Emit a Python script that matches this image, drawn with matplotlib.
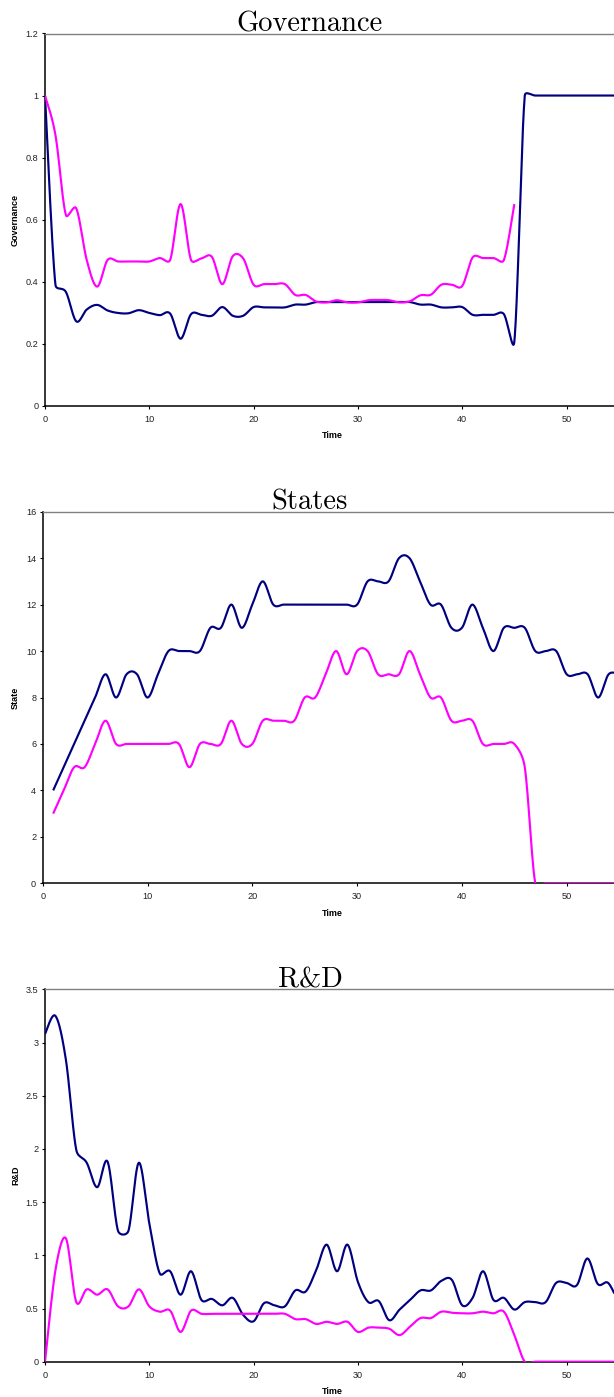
import numpy as np
import matplotlib
matplotlib.use("Agg")
import matplotlib.pyplot as plt
from matplotlib.ticker import FuncFormatter, MultipleLocator

# ---------------------------------------------------------------- data
time_gov = list(range(0, 56))
gov_total = [1.0, 0.39, 0.367, 0.272, 0.31, 0.325, 0.307, 0.299, 0.298, 0.308,
             0.299, 0.292, 0.297, 0.216, 0.295, 0.293, 0.29, 0.318, 0.29, 0.29,
             0.318, 0.317, 0.317, 0.317, 0.326, 0.326, 0.334, 0.334, 0.334, 0.334,
             0.334, 0.334, 0.334, 0.334, 0.334, 0.334, 0.326, 0.326, 0.317, 0.317,
             0.318, 0.293, 0.293, 0.293, 0.295, 0.207, 1.0, 1.0, 1.0, 1.0,
             1.0, 1.0, 1.0, 1.0, 1.0, 1.0]
time_gov_alt = list(range(0, 46))
gov_alt = [1.0, 0.873, 0.615, 0.636, 0.47, 0.384, 0.47, 0.465, 0.465, 0.465,
           0.465, 0.476, 0.47, 0.65, 0.47, 0.475, 0.48, 0.392, 0.482, 0.475,
           0.39, 0.392, 0.392, 0.392, 0.357, 0.357, 0.336, 0.333, 0.34, 0.333,
           0.333, 0.34, 0.341, 0.34, 0.333, 0.337, 0.356, 0.358, 0.39, 0.39,
           0.386, 0.478, 0.476, 0.476, 0.47, 0.65]

time_states = list(range(1, 56))
states_total = [4, 5, 6, 7, 8, 9, 8, 9, 9, 8,
                9, 10, 10, 10, 10, 11, 11, 12, 11, 12,
                13, 12, 12, 12, 12, 12, 12, 12, 12, 12,
                13, 13, 13, 14, 14, 13, 12, 12, 11, 11,
                12, 11, 10, 11, 11, 11, 10, 10, 10, 9,
                9, 9, 8, 9, 9]
states_alt = [3, 4, 5, 5, 6, 7, 6, 6, 6, 6,
              6, 6, 6, 5, 6, 6, 6, 7, 6, 6,
              7, 7, 7, 7, 8, 8, 9, 10, 9, 10,
              10, 9, 9, 9, 10, 9, 8, 8, 7, 7,
              7, 6, 6, 6, 6, 5, 0, 0, 0, 0,
              0, 0, 0, 0, 0]

time_rd = list(range(0, 56))
rd_total = [3.08, 3.25, 2.84, 1.99, 1.87, 1.64, 1.88, 1.23, 1.23, 1.87,
            1.30, 0.83, 0.85, 0.63, 0.85, 0.58, 0.59, 0.53, 0.60, 0.44,
            0.38, 0.55, 0.53, 0.52, 0.67, 0.66, 0.86, 1.10, 0.85, 1.10,
            0.75, 0.56, 0.57, 0.39, 0.49, 0.58, 0.67, 0.67, 0.76, 0.77,
            0.53, 0.60, 0.85, 0.58, 0.60, 0.49, 0.56, 0.56, 0.56, 0.74,
            0.74, 0.72, 0.97, 0.73, 0.74, 0.55]
rd_alt = [0.0, 0.86, 1.16, 0.56, 0.68, 0.63, 0.68, 0.52, 0.52, 0.68,
          0.52, 0.47, 0.48, 0.28, 0.48, 0.45, 0.45, 0.45, 0.45, 0.45,
          0.45, 0.45, 0.45, 0.45, 0.40, 0.40, 0.355, 0.375, 0.355, 0.375,
          0.28, 0.32, 0.32, 0.31, 0.25, 0.33, 0.41, 0.41, 0.47, 0.46,
          0.455, 0.455, 0.47, 0.455, 0.47, 0.25, 0.0, 0.0, 0.0, 0.0,
          0.0, 0.0, 0.0, 0.0, 0.0, 0.0]

titles = ["Governance", "States", "R&D"]
ylabels = ["Governance", "State", "R&D"]

NAVY = "#000080"
MAGENTA = "#FF00FF"
W, H = 614, 1397

# ---------------------------------------------------------------- helpers
def smooth_xy(ax, x, y, n=24):
    """Cubic Bezier smoothing in display space: tangents are (P[i+1]-P[i-1])/6,
    shortened to at most half of the segment they start or end."""
    pts = ax.transData.transform(np.column_stack([x, y]).astype(float))
    N = len(pts)
    tang = np.empty_like(pts)
    tang[0] = pts[1] - pts[0]
    tang[-1] = pts[-1] - pts[-2]
    tang[1:-1] = pts[2:] - pts[:-2]
    tlen = np.hypot(tang[:, 0], tang[:, 1])
    t = np.linspace(0, 1, n)[:, None]
    segs = [pts[:1]]
    for i in range(N - 1):
        d = np.hypot(*(pts[i + 1] - pts[i]))
        f0 = min(1 / 6, d / 2 / tlen[i]) if tlen[i] > 0 else 0
        f3 = min(1 / 6, d / 2 / tlen[i + 1]) if tlen[i + 1] > 0 else 0
        p0 = pts[i]
        p1 = pts[i] + tang[i] * f0
        p2 = pts[i + 1] - tang[i + 1] * f3
        p3 = pts[i + 1]
        b = ((1 - t) ** 3) * p0 + 3 * ((1 - t) ** 2) * t * p1 \
            + 3 * (1 - t) * t ** 2 * p2 + t ** 3 * p3
        segs.append(b[1:])
    curve = np.vstack(segs)
    return ax.transData.inverted().transform(curve)


def fmt(v, pos):
    return "%g" % round(v, 3)


def make_axes(left, top, bottom, xmax, ymax, ystep, title, ylabel, label_y):
    ax = fig.add_axes([left / W, 1 - bottom / H, (W - left) / W, (bottom - top) / H])
    ax.set_xlim(0, xmax)
    ax.set_ylim(0, ymax)
    ax.xaxis.set_major_locator(MultipleLocator(10))
    ax.yaxis.set_major_locator(MultipleLocator(ystep))
    ax.xaxis.set_major_formatter(FuncFormatter(fmt))
    ax.yaxis.set_major_formatter(FuncFormatter(fmt))
    ax.spines["right"].set_visible(False)
    ax.spines["top"].set_color("#808080")
    ax.spines["top"].set_linewidth(1.0)
    for s in ("left", "bottom"):
        ax.spines[s].set_color("black")
        ax.spines[s].set_linewidth(1.1)
    ax.tick_params(axis="both", direction="out", length=2.5, width=0.8,
                   labelsize=6.6, labelcolor="#222222", color="black")
    ax.tick_params(axis="x", pad=4.0)
    ax.tick_params(axis="y", pad=2.2)
    for lab in ax.get_xticklabels() + ax.get_yticklabels():
        lab.set_family("Liberation Sans")
    fig.text(310 / W, 1 - (top - 2) / H, title, family="cmr10", fontsize=20.5,
             ha="center", va="baseline")
    fig.text(15.5 / W, 1 - label_y / H, ylabel, rotation=90, family="Liberation Sans",
             fontweight="bold", fontsize=6.5, ha="center", va="center")
    fig.text(332 / W, 1 - (bottom + 30) / H, "Time", family="Liberation Sans",
             fontweight="bold", fontsize=6.5, ha="center", va="center")
    return ax


def draw(ax, x, y, color):
    c = smooth_xy(ax, x, y)
    ax.plot(c[:, 0], c[:, 1], color=color, lw=1.55, zorder=3,
            solid_joinstyle="round", solid_capstyle="butt")


fig = plt.figure(figsize=(W / 100, H / 100), dpi=100)
fig.patch.set_facecolor("white")

ax1 = make_axes(45, 33.5, 405.7, (W - 45) / 10.43, 1.2, 0.2,
                titles[0], ylabels[0], 219.6)
draw(ax1, time_gov, gov_total, NAVY)
draw(ax1, time_gov_alt, gov_alt, MAGENTA)

ax2 = make_axes(42.7, 511.7, 883.3, (W - 42.7) / 10.48, 16, 2,
                titles[1], ylabels[1], 697.5)
draw(ax2, time_states, states_total, NAVY)
draw(ax2, time_states, states_alt, MAGENTA)

ax3 = make_axes(45, 989.3, 1361.7, (W - 45) / 10.43, 3.5, 0.5,
                titles[2], ylabels[2], 1175.5)
draw(ax3, time_rd, rd_total, NAVY)
draw(ax3, time_rd, rd_alt, MAGENTA)

fig.savefig("out.png", dpi=100, facecolor="white")
